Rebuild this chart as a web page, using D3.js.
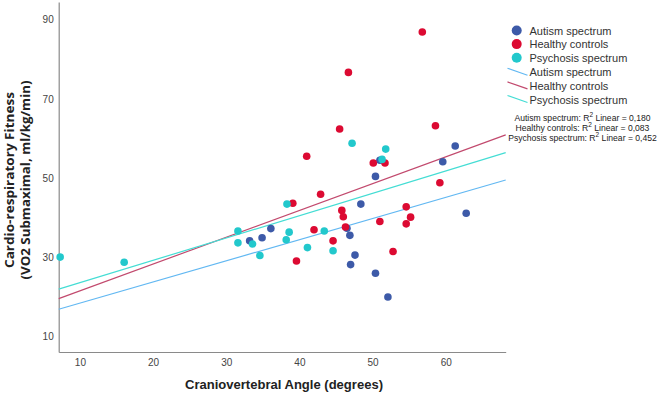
<!DOCTYPE html>
<html><head><meta charset="utf-8">
<script src="https://cdn.jsdelivr.net/npm/d3@7/dist/d3.min.js"></script>
<style>body{margin:0;background:#fff}svg{display:block}</style>
</head><body>
<svg id="c" width="660" height="394"></svg>
<script>
const groups = ["Autism spectrum", "Healthy controls", "Psychosis spectrum"];
const autismX = [33.2,34.9,36.1,46.5,46.9,47.6,47.0,50.4,52.1,48.4,50.4,51.0,59.6,61.3,62.8];
const autismY = [34.1,34.9,37.2,37.3,35.5,30.5,28.1,25.9,19.9,43.4,50.4,54.5,54.1,58.1,41.1];
const healthyX = [56.8,46.7,58.6,45.5,41.0,50.1,51.7,42.9,39.1,45.8,46.0,46.3,42.0,44.6,39.6,51.0,54.6,55.2,54.6,52.8,59.2];
const healthyY = [86.9,76.7,63.2,62.4,55.5,53.8,53.8,45.9,43.6,41.8,40.2,37.6,36.9,34.1,29.0,39.0,42.7,40.1,38.4,31.4,48.8];
const psychosisX = [7.3,16.05,31.6,31.6,33.6,34.6,38.3,38.6,38.2,41.1,43.4,44.6,47.2,51.8,51.3];
const psychosisY = [30.0,28.7,36.6,33.6,33.3,30.4,43.4,36.3,34.4,32.4,36.6,31.6,58.8,57.3,54.7];
// fit line values at x = 7.1 and x = 68.2
const fitX = [7.1, 68.2];
const fitAutism = [16.8, 49.5];
const fitHealthy = [19.5, 60.9];
const fitPsychosis = [21.9, 56.4];
const r2Labels = ["0,180", "0,083", "0,452"];
const xTicks = [10,20,30,40,50,60];
const yTicks = [10,30,50,70,90];

const pointColors = ["#3d5aa8", "#dc0a32", "#22c8cc"];
const lineColors = ["#62b8f2", "#c24a6e", "#44ddd4"];

const svg = d3.select("#c");
const x = d3.scaleLinear().domain([7.1, 68.2]).range([58.7, 505.7]);
const y = d3.scaleLinear().domain([6, 94.5]).range([352, 2]);

// axes
const xa = svg.append("g").attr("transform","translate(0,352)")
  .call(d3.axisBottom(x).tickValues(xTicks).tickSize(0).tickPadding(7).tickFormat(d3.format("d")));
const ya = svg.append("g").attr("transform","translate(58.7,0)")
  .call(d3.axisLeft(y).tickValues(yTicks).tickSize(0).tickPadding(5).tickFormat(d3.format("d")));
[xa, ya].forEach(a => {
  a.select(".domain").attr("stroke","#8a8a8a").attr("stroke-width",1.2);
  a.selectAll("text").attr("font-family","Liberation Sans, Arial, sans-serif").attr("font-size",10).attr("fill","#444");
});

// fit lines
const fits = [fitAutism, fitHealthy, fitPsychosis];
fits.forEach((f,i) => {
  svg.append("line").attr("x1",x(fitX[0])).attr("y1",y(f[0])).attr("x2",x(fitX[1])).attr("y2",y(f[1]))
    .attr("stroke",lineColors[i]).attr("stroke-width",1.2);
});

// points
const series = [[autismX,autismY],[healthyX,healthyY],[psychosisX,psychosisY]];
series.forEach((s,i) => {
  svg.append("g").selectAll("circle").data(s[0].map((d,j)=>[d,s[1][j]])).join("circle")
    .attr("cx",d=>x(d[0])).attr("cy",d=>y(d[1])).attr("r",3.8).attr("fill",pointColors[i]);
});

// axis titles
svg.append("text").attr("x",284).attr("y",389).attr("text-anchor","middle")
  .attr("font-family","Liberation Sans, Arial, sans-serif").attr("font-weight","bold").attr("font-size",13).attr("fill","#222")
  .attr("textLength",198).attr("lengthAdjust","spacingAndGlyphs")
  .text("Craniovertebral Angle (degrees)");
const yt = svg.append("text").attr("transform","translate(0,180) rotate(-90)").attr("text-anchor","middle")
  .attr("font-family","Open Sans, sans-serif").attr("font-weight","bold").attr("font-size",12.5).attr("fill","#222");
yt.append("tspan").attr("x",0).attr("y",14).attr("textLength",176).attr("lengthAdjust","spacingAndGlyphs").text("Cardio-respiratory Fitness");
yt.append("tspan").attr("x",0).attr("y",30).attr("textLength",199).attr("lengthAdjust","spacingAndGlyphs").text("(VO2 Submaximal, ml/kg/min)");

// legend
const lf = "Liberation Sans, Arial, sans-serif";
groups.forEach((g,i) => {
  const cy = 30.5 + i*13.6;
  svg.append("circle").attr("cx",516.7).attr("cy",cy).attr("r",5).attr("fill",pointColors[i]);
  svg.append("text").attr("x",529.5).attr("y",cy+4).attr("font-family",lf).attr("font-size",11).attr("fill","#333").text(g);
});
groups.forEach((g,i) => {
  const cy = 72.3 + i*13.6;
  svg.append("line").attr("x1",507.5).attr("y1",cy-4).attr("x2",527.5).attr("y2",cy+3)
    .attr("stroke",lineColors[i]).attr("stroke-width",1.2);
  svg.append("text").attr("x",529.5).attr("y",cy+4).attr("font-family",lf).attr("font-size",11).attr("fill","#333").text(g);
});
groups.forEach((g,i) => {
  const cy = 117.5 + i*10.2;
  const t = svg.append("text").attr("x",582.5).attr("y",cy+3).attr("text-anchor","middle")
    .attr("font-family",lf).attr("font-size",8.6).attr("fill","#222");
  t.append("tspan").text(g + ": R");
  t.append("tspan").attr("dy",-3.5).attr("font-size",6.5).text("2");
  t.append("tspan").attr("dy",3.5).text(" Linear = " + r2Labels[i]);
});
</script>
</body></html>
